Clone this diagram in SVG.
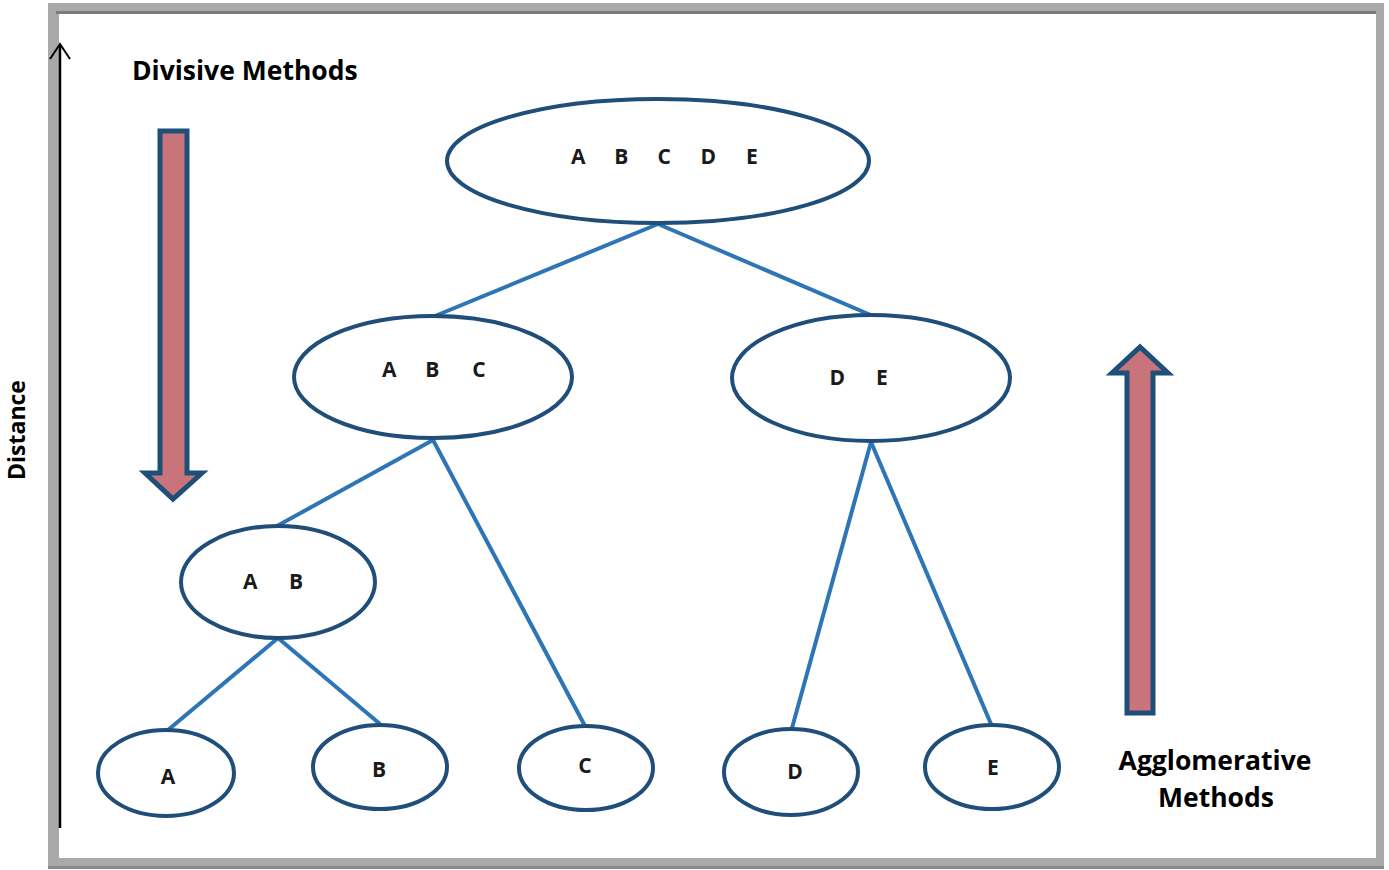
<svg xmlns="http://www.w3.org/2000/svg" width="1389" height="870" viewBox="0 0 1389 870">
<style>
.node{fill:#fff;stroke:#1f4e79;stroke-width:4}
.lbl{font-family:"Open Sans","Liberation Sans",Arial,sans-serif;font-weight:bold;font-size:21px;fill:#1a1a1a;text-anchor:middle}
.title{font-family:"Open Sans","Liberation Sans",sans-serif;font-weight:bold;font-size:26.5px;fill:#000}
.edge{stroke:#2e75b6;stroke-width:4;fill:none}
.bigarrow{fill:#c9747b;stroke:#1f4e79;stroke-width:5;stroke-linejoin:miter}
</style>
<rect x="0" y="0" width="1389" height="870" fill="#fff"/>
<g id="frame">
<rect x="48" y="3" width="1336" height="866" fill="#a9a9a9"/>
<rect x="48" y="866" width="1336" height="3" fill="#8a8a8a"/>
<rect x="56" y="11" width="1320" height="3" fill="#7a7a7a"/>
<rect x="59" y="14" width="1317" height="844" fill="#fff"/>
</g>
<g id="axis">
<line x1="60" y1="45" x2="60" y2="828" stroke="#000" stroke-width="2.5"/>
<polyline points="50,59 60,44 70,59" fill="none" stroke="#000" stroke-width="2"/>
<text class="title" transform="translate(25,430) rotate(-90)" text-anchor="middle" style="font-size:23px">Distance</text>
</g>
<g id="connectors">
<line class="edge" x1="658" y1="224" x2="435" y2="316"/>
<line class="edge" x1="658" y1="224" x2="873" y2="316"/>
<line class="edge" x1="433" y1="440" x2="277" y2="526"/>
<line class="edge" x1="433" y1="440" x2="585" y2="726"/>
<line class="edge" x1="871" y1="442" x2="792" y2="728"/>
<line class="edge" x1="871" y1="442" x2="991" y2="724"/>
<line class="edge" x1="278" y1="638" x2="168" y2="730"/>
<line class="edge" x1="278" y1="638" x2="380" y2="724"/>
</g>
<g id="node-ABCDE">
<ellipse class="node" cx="658" cy="161" rx="211" ry="62"/>
<text class="lbl" y="164"><tspan x="581">A</tspan> <tspan x="624">B</tspan> <tspan x="667">C</tspan> <tspan x="711">D</tspan> <tspan x="752">E</tspan></text>
</g>
<g id="node-ABC">
<ellipse class="node" cx="433" cy="377" rx="139" ry="61"/>
<text class="lbl" y="377"><tspan x="392">A</tspan> <tspan x="435">B</tspan> <tspan x="479">C</tspan></text>
</g>
<g id="node-DE">
<ellipse class="node" cx="871" cy="378" rx="139" ry="63"/>
<text class="lbl" y="385"><tspan x="840">D</tspan> <tspan x="882">E</tspan></text>
</g>
<g id="node-AB">
<ellipse class="node" cx="278" cy="582" rx="97" ry="56"/>
<text class="lbl" y="589"><tspan x="253">A</tspan> <tspan x="296">B</tspan></text>
</g>
<g id="node-A">
<ellipse class="node" cx="166" cy="773" rx="68" ry="43"/>
<text class="lbl" x="168" y="784">A</text>
</g>
<g id="node-B">
<ellipse class="node" cx="380" cy="767" rx="67" ry="42"/>
<text class="lbl" x="379" y="777">B</text>
</g>
<g id="node-C">
<ellipse class="node" cx="586" cy="768" rx="67" ry="42"/>
<text class="lbl" x="585" y="773">C</text>
</g>
<g id="node-D">
<ellipse class="node" cx="791" cy="772" rx="67" ry="43"/>
<text class="lbl" x="795" y="779">D</text>
</g>
<g id="node-E">
<ellipse class="node" cx="992" cy="767" rx="67" ry="42"/>
<text class="lbl" x="993" y="775">E</text>
</g>
<g id="divisive">
<polygon class="bigarrow" points="160,131 187,131 187,473 202,473 173,499 145,473 160,473"/>
<text class="title" x="132" y="80">Divisive Methods</text>
</g>
<g id="agglomerative">
<polygon class="bigarrow" points="1127,713 1153,713 1153,373 1168,373 1140,347 1112,373 1127,373"/>
<text class="title" x="1215" y="770" text-anchor="middle">Agglomerative</text>
<text class="title" x="1216" y="807" text-anchor="middle">Methods</text>
</g>
</svg>
